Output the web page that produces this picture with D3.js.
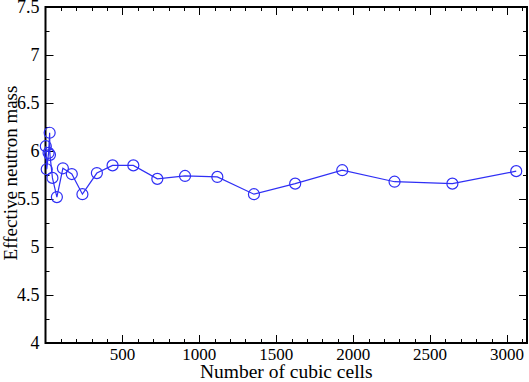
<!DOCTYPE html>
<html>
<head>
<meta charset="utf-8">
<script src="https://cdn.jsdelivr.net/npm/d3@7"></script>
<style>
	body { margin: 0; background: #fff; }
	text { font-family: "Liberation Serif", "Times New Roman", serif; fill: #000; }
</style>
</head>
<body>
<div id="chart"></div>
<script>
// readings
var cells = [2, 8, 20, 27, 29, 45, 74, 113, 171, 240, 334, 436, 571, 727, 907, 1117, 1355, 1623, 1929, 2269, 2645, 3060]
var mass = [6.05, 5.81, 5.98, 6.19, 5.96, 5.72, 5.52, 5.82, 5.76, 5.55, 5.77, 5.85, 5.85, 5.71, 5.74, 5.73, 5.55, 5.66, 5.80, 5.68, 5.66, 5.79]
var xTicks = [500, 1000, 1500, 2000, 2500, 3000]
var yTicks = [4, 4.5, 5, 5.5, 6, 6.5, 7, 7.5]

var width = 529
	height = 382
	margin = {left: 45.5, right: 2, top: 7, bottom: 39}

var svg = d3.select("#chart")
	.append("svg")
	.attr("width", width)
	.attr("height", height)

var x = d3.scaleLinear().domain([0, 3130]).range([margin.left, width - margin.right])
var y = d3.scaleLinear().domain([4, 7.5]).range([height - margin.bottom, margin.top])

var x0 = x.range()[0], x1 = x.range()[1]
var y0 = y.range()[0], y1 = y.range()[1]

// minor ticks every 100 on x, every 0.25 on y
var xMinor = d3.range(100, 3130, 100).filter(function(d){ return d % 500 != 0 })
var yMinor = d3.range(4.25, 7.5, 0.5)

var ticks = svg.append("g").attr("stroke", "#000").attr("stroke-width", 1)

function xTick(list, len) {
	list.forEach(function(d) {
		var px = Math.round(x(d)) + 0.5
		ticks.append("line").attr("x1", px).attr("x2", px).attr("y1", y0).attr("y2", y0 - len)
		ticks.append("line").attr("x1", px).attr("x2", px).attr("y1", y1).attr("y2", y1 + len)
	})
}
function yTick(list, len) {
	list.forEach(function(d) {
		var py = Math.round(y(d)) + 0.5
		ticks.append("line").attr("x1", x0).attr("x2", x0 + len).attr("y1", py).attr("y2", py)
		ticks.append("line").attr("x1", x1).attr("x2", x1 - len).attr("y1", py).attr("y2", py)
	})
}
xTick(xTicks, 8)
xTick(xMinor, 4)
yTick(yTicks, 8)
yTick(yMinor, 4)

// frame
svg.append("rect")
	.attr("x", x0)
	.attr("y", y1)
	.attr("width", x1 - x0)
	.attr("height", y0 - y1)
	.attr("fill", "none")
	.attr("stroke", "#000")
	.attr("stroke-width", 2)

// tick labels
svg.selectAll(".xl")
	.data(xTicks)
	.enter()
	.append("text")
	.attr("x", function(d){ return x(d) })
	.attr("y", y0 + 17)
	.attr("text-anchor", "middle")
	.attr("font-size", 17)
	.text(function(d){ return d })

svg.selectAll(".yl")
	.data(yTicks)
	.enter()
	.append("text")
	.attr("x", x0 - 6)
	.attr("y", function(d){ return y(d) + 6 })
	.attr("text-anchor", "end")
	.attr("font-size", 18)
	.text(function(d){ return d })

// axis titles
svg.append("text")
	.attr("x", (x0 + x1) / 2)
	.attr("y", height - 4)
	.attr("text-anchor", "middle")
	.attr("font-size", 19.5)
	.text("Number of cubic cells")

svg.append("text")
	.attr("transform", "translate(17," + ((y0 + y1) / 2 - 2) + ") rotate(-90)")
	.attr("text-anchor", "middle")
	.attr("font-size", 19)
	.text("Effective neutron mass")

// series
var pts = cells.map(function(c, i){ return [c, mass[i]] })

svg.append("path")
	.datum(pts)
	.attr("fill", "none")
	.attr("stroke", "#2f2ff5")
	.attr("stroke-width", 1.2)
	.attr("d", d3.line().x(function(d){ return x(d[0]) }).y(function(d){ return y(d[1]) }))

svg.selectAll(".pt")
	.data(pts)
	.enter()
	.append("circle")
	.attr("cx", function(d){ return x(d[0]) })
	.attr("cy", function(d){ return y(d[1]) })
	.attr("r", 5.5)
	.attr("fill", "none")
	.attr("stroke", "#2f2ff5")
	.attr("stroke-width", 1.2)
</script>
</body>
</html>
